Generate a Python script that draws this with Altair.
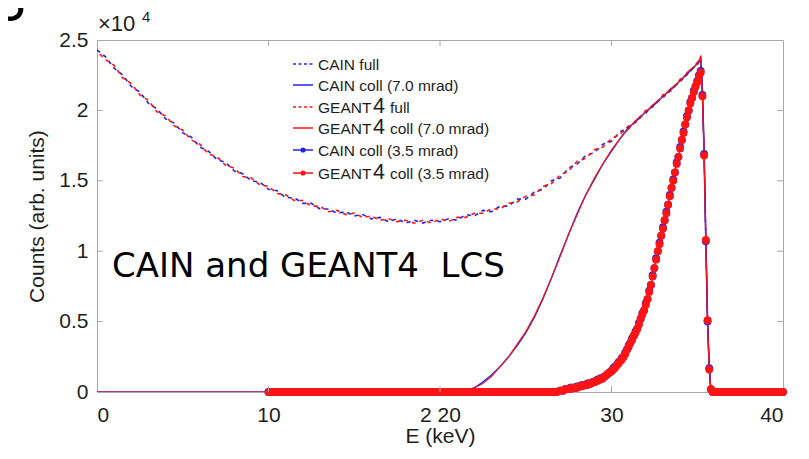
import altair as alt
import pandas as pd

BLUE = "#2424e8"
RED = "#ff1414"
GRAY = "#a8a8a8"
FONT = "Liberation Sans"

# ---------------- data (counts in units of 1e4) ----------------
E_full = [i * 0.5 for i in range(71)] + [35.2, 35.3, 35.4, 35.5, 35.6, 35.7, 35.8, 40.0]
cain_full = [2.43, 2.38, 2.30, 2.25, 2.17, 2.13, 2.05, 2.01, 1.94, 1.91,
             1.84, 1.81, 1.74, 1.71, 1.65, 1.63, 1.57, 1.55, 1.50, 1.49,
             1.44, 1.43, 1.38, 1.38, 1.34, 1.34, 1.30, 1.30, 1.27, 1.28,
             1.25, 1.26, 1.23, 1.24, 1.21, 1.23, 1.20, 1.22, 1.20, 1.22,
             1.21, 1.23, 1.22, 1.26, 1.25, 1.29, 1.28, 1.32, 1.32, 1.37,
             1.37, 1.42, 1.44, 1.50, 1.52, 1.59, 1.62, 1.68, 1.70, 1.76,
             1.78, 1.85, 1.87, 1.94, 1.98, 2.05, 2.09, 2.16, 2.20, 2.28, 2.32,
             2.37, 2.15, 1.70, 1.08, 0.51, 0.16, 0.0, 0.0]
geant_full = [2.42, 2.36, 2.32, 2.23, 2.19, 2.11, 2.07, 1.99, 1.96, 1.89,
              1.86, 1.79, 1.76, 1.69, 1.67, 1.61, 1.59, 1.53, 1.52, 1.47,
              1.46, 1.41, 1.40, 1.36, 1.36, 1.32, 1.32, 1.28, 1.29, 1.26,
              1.27, 1.24, 1.25, 1.22, 1.23, 1.21, 1.22, 1.20, 1.22, 1.20,
              1.23, 1.21, 1.24, 1.24, 1.27, 1.27, 1.30, 1.30, 1.34, 1.35,
              1.39, 1.40, 1.46, 1.48, 1.54, 1.57, 1.64, 1.66, 1.72, 1.74,
              1.80, 1.83, 1.89, 1.92, 2.00, 2.03, 2.11, 2.14, 2.22, 2.26, 2.34,
              2.38, 2.14, 1.69, 1.09, 0.50, 0.17, 0.0, 0.0]

E_c7 = [0.0] + [21 + 0.5 * i for i in range(29)] + [35.2, 35.3, 35.4, 35.5, 35.6, 35.7, 35.8, 40.0]
cain_c7 = [0.0, 0.0, 0.01, 0.03, 0.07, 0.12, 0.18, 0.25, 0.33, 0.42, 0.53, 0.66, 0.81, 0.97, 1.12,
           1.27, 1.40, 1.51, 1.62, 1.71, 1.80, 1.88, 1.93, 1.99, 2.04, 2.10, 2.15, 2.21, 2.27, 2.33,
           2.37, 2.15, 1.70, 1.08, 0.51, 0.16, 0.0, 0.0]
geant_c7 = [0.0, 0.0, 0.01, 0.03, 0.06, 0.11, 0.18, 0.25, 0.34, 0.43, 0.54, 0.67, 0.81, 0.96, 1.12,
            1.26, 1.40, 1.52, 1.62, 1.72, 1.80, 1.87, 1.94, 1.99, 2.05, 2.10, 2.16, 2.21, 2.28, 2.33,
            2.38, 2.14, 1.69, 1.09, 0.50, 0.17, 0.0, 0.0]

# 3.5 mrad: 0.2 keV bins below 27 keV and above 36 keV, 0.1 keV bins in between
E_35 = ([round(10 + 0.2 * i, 1) for i in range(85)]
        + [round(27 + 0.1 * i, 1) for i in range(90)]
        + [round(36 + 0.2 * i, 1) for i in range(21)])
geant_35_peak = [0.01, 0.01, 0.01, 0.02, 0.02, 0.02, 0.02, 0.03, 0.03, 0.03,
                 0.03, 0.04, 0.04, 0.04, 0.05, 0.05, 0.05, 0.06, 0.06, 0.07,
                 0.07, 0.08, 0.08, 0.09, 0.09, 0.10, 0.11, 0.12, 0.13, 0.14,
                 0.15, 0.16, 0.17, 0.19, 0.20, 0.22, 0.23, 0.25, 0.27, 0.30,
                 0.32, 0.35, 0.37, 0.40, 0.42, 0.45, 0.48, 0.52, 0.55, 0.58,
                 0.62, 0.66, 0.71, 0.76, 0.82, 0.88, 0.94, 1.00, 1.05, 1.11,
                 1.16, 1.22, 1.27, 1.33, 1.39, 1.45, 1.50, 1.56, 1.62, 1.67,
                 1.73, 1.79, 1.84, 1.90, 1.95, 2.00, 2.05, 2.09, 2.13, 2.17,
                 2.20, 2.24, 2.27, 2.10, 1.68, 1.08, 0.51, 0.16, 0.02, 0.0]
cain_35_peak = [0.01, 0.01, 0.01, 0.02, 0.02, 0.02, 0.03, 0.03, 0.03, 0.03,
                0.04, 0.04, 0.04, 0.05, 0.05, 0.05, 0.06, 0.06, 0.06, 0.07,
                0.07, 0.08, 0.09, 0.09, 0.10, 0.10, 0.11, 0.12, 0.13, 0.14,
                0.15, 0.17, 0.18, 0.19, 0.21, 0.22, 0.24, 0.25, 0.28, 0.30,
                0.33, 0.35, 0.38, 0.40, 0.43, 0.45, 0.49, 0.52, 0.56, 0.58,
                0.63, 0.66, 0.72, 0.76, 0.83, 0.88, 0.95, 1.00, 1.06, 1.11,
                1.17, 1.22, 1.28, 1.33, 1.40, 1.45, 1.51, 1.56, 1.63, 1.67,
                1.74, 1.79, 1.85, 1.90, 1.96, 2.00, 2.06, 2.09, 2.14, 2.17,
                2.21, 2.25, 2.28, 2.11, 1.69, 1.07, 0.50, 0.17, 0.02, 0.0]
zeros_low = [0.0] * 85
zeros_high = [0.0] * 21
geant_35 = zeros_low + geant_35_peak + zeros_high
cain_35 = zeros_low + cain_35_peak + zeros_high

x_ticks = [0, 10, 20, 30, 40]
y_ticks = [0, 0.5, 1, 1.5, 2, 2.5]

legend_labels = ["CAIN full", "CAIN coll (7.0 mrad)", "GEANT4 full",
                 "GEANT4 coll (7.0 mrad)", "CAIN coll (3.5 mrad)", "GEANT4 coll (3.5 mrad)"]

W, H = 686, 352

# ---------------- encodings ----------------
x_axis = alt.Axis(values=x_ticks, format="d",
                  labelExpr="datum.value == 20 ? '2 20' : datum.label",
                  title="E (keV)", ticks=False, domain=False, grid=False,
                  labelPadding=12, titlePadding=0)
y_axis = alt.Axis(values=y_ticks, format="~g", title="Counts (arb. units)",
                  ticks=False, domain=False, grid=False, labelPadding=9, titlePadding=11)
X = alt.X("E:Q", scale=alt.Scale(domain=[0, 40], nice=False, zero=False), axis=x_axis)
Y = alt.Y("C:Q", scale=alt.Scale(domain=[0, 2.5], nice=False), axis=y_axis)


def df(E, C):
    return pd.DataFrame({"E": E, "C": C})


def line(E, C, color, dash=None, offset=0, width=1.3):
    kw = dict(color=color, strokeWidth=width, clip=True)
    if dash:
        kw["strokeDash"] = dash
        kw["strokeDashOffset"] = offset
    return alt.Chart(df(E, C)).mark_line(**kw).encode(x=X, y=Y)


def pts(E, C, color):
    return alt.Chart(df(E, C)).mark_circle(color=color, size=62, opacity=1).encode(x=X, y=Y)


layers = [
    line(E_full, cain_full, BLUE, [4, 4], 0, 1.6),
    line(E_full, geant_full, RED, [4, 4], 4, 1.6),
    line(E_c7, cain_c7, BLUE, width=1.4),
    line(E_c7, geant_c7, RED, width=1.1),
    line(E_35, cain_35, BLUE, width=1.0),
    pts(E_35, cain_35, BLUE),
    pts(E_35, geant_35, RED),
    line(E_35, geant_35, RED, width=1.0),
]

# inward tick marks on all four sides
tx = pd.DataFrame({"E": x_ticks[1:-1]})
ty = pd.DataFrame({"C": y_ticks[1:-1]})
tick_style = dict(color=GRAY, strokeWidth=1)
layers += [
    alt.Chart(tx).mark_rule(**tick_style).encode(x=X, y=alt.value(H), y2=alt.value(H - 6)),
    alt.Chart(tx).mark_rule(**tick_style).encode(x=X, y=alt.value(0), y2=alt.value(6)),
    alt.Chart(ty).mark_rule(**tick_style).encode(y=Y, x=alt.value(0), x2=alt.value(6)),
    alt.Chart(ty).mark_rule(**tick_style).encode(y=Y, x=alt.value(W), x2=alt.value(W - 6)),
]

one = pd.DataFrame({"d": [0]})


def txt(s, x, y, size, font=FONT, align="left", baseline="alphabetic", color="#1e1e1e"):
    return alt.Chart(one).mark_text(text=s, align=align, baseline=baseline, font=font,
                                    fontSize=size, color=color).encode(
        x=alt.value(x), y=alt.value(y))


# x10^4 multiplier
layers += [txt("\u00d710", 1, -9, 22), txt("4", 45, -18, 15)]
# slide title fragment and annotation
layers += [txt("S", -71, -19, 56, font="Lato", align="right", color="#000000")]
layers += [txt("CAIN and GEANT4\u00a0\u00a0LCS", 15, 227, 34, font="DejaVu Sans",
               baseline="middle", color="#000000")]

# legend
rows = [24, 45, 67, 88, 110, 133]
styles = [(BLUE, [3, 2.5], False), (BLUE, None, False), (RED, [3, 2.5], False),
          (RED, None, False), (BLUE, None, True), (RED, None, True)]
for lab, ry, (col, dash, dot) in zip(legend_labels, rows, styles):
    kw = dict(color=col, strokeWidth=1.5)
    if dash:
        kw["strokeDash"] = dash
    layers.append(alt.Chart(one).mark_rule(**kw).encode(
        x=alt.value(196), x2=alt.value(216), y=alt.value(ry)))
    if dot:
        layers.append(alt.Chart(one).mark_circle(color=col, size=26, opacity=1).encode(
            x=alt.value(206), y=alt.value(ry)))
    base_y = ry + 5.5
    if lab.startswith("GEANT4"):
        rest = lab[len("GEANT4 "):]
        layers += [txt("GEANT", 221, base_y, 15.5), txt("4", 276, base_y, 21.5),
                   txt(rest, 293, base_y, 15.5)]
    else:
        layers.append(txt(lab, 221, base_y, 15.5))

chart = alt.layer(*layers).properties(
    width=W, height=H, background="white",
    autosize=alt.AutoSizeParams(type="none"),
    padding={"left": 89, "top": 32, "right": 16, "bottom": 56},
).configure_view(stroke=GRAY, strokeWidth=1).configure_axis(
    labelFont=FONT, titleFont=FONT, labelFontSize=21, titleFontSize=21,
    labelColor="#1e1e1e", titleColor="#1e1e1e", titleFontWeight="normal",
)

chart.save("out.html", embed_options={"renderer": "svg", "actions": False})
